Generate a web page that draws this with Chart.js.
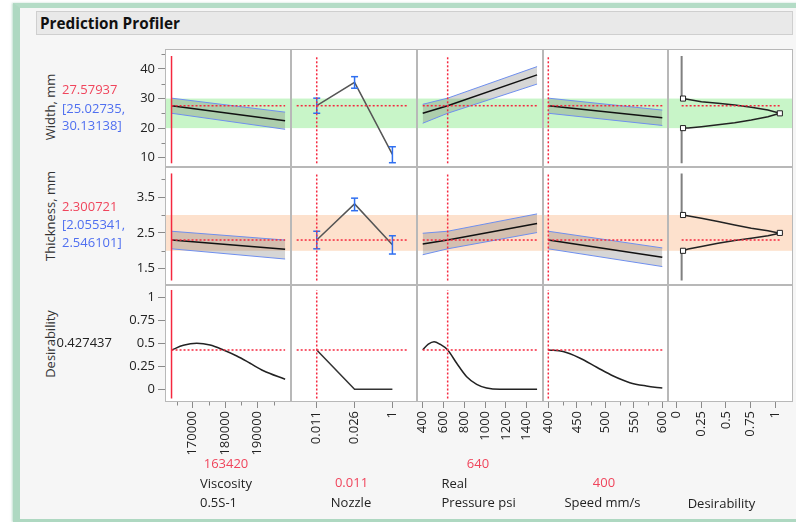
<!DOCTYPE html>
<html>
<head>
<meta charset="utf-8">
<title>Prediction Profiler</title>
<script src="https://cdn.jsdelivr.net/npm/chart.js@4.4.1/dist/chart.umd.min.js"></script>
<style>
  html, body { margin: 0; padding: 0; width: 796px; height: 522px; overflow: hidden; background: #ffffff; font-family: "Open Sans", sans-serif; }
  #frame { position: absolute; left: 13px; top: 3px; width: 800px; height: 511px;
           border-left: 7px solid #aed8c1; border-top: 5px solid #b4dcc6; border-bottom: 3px solid #aed8c1;
           background: #f6f6f6; box-shadow: -1px 0 2px rgba(150,200,175,0.6); }
  #header { position: absolute; left: 36px; top: 11px; width: 752px; height: 22px; padding-left: 3px;
            background: #e9e9e9; border: 1px solid #cfcfcf; font: bold 15.3px "Open Sans", sans-serif;
            line-height: 22px; color: #111; }
  canvas { position: absolute; }
  .lbl { position: absolute; white-space: nowrap; font: 13px "Open Sans", sans-serif; line-height: 1; }
</style>
</head>
<body>
<div id="frame"></div>
<div id="header">Prediction Profiler</div>
<script>
// ---------- current settings and predictions ----------
const currentViscosity = 163420;
const currentNozzle = 0;              // index into nozzleLevels
const currentPressure = 640;
const currentSpeed = 400;
const predWidth = 27.57937;
const ciWidth = [25.02735, 30.13138];
const predThickness = 2.300721;
const ciThickness = [2.055341, 2.546101];
const predDesirability = 0.427437;

// ---------- spec limits ----------
const widthSpec = [20, 30];
const thicknessSpec = [2, 3];

// ---------- tick labels ----------
const viscosityTicks = [170000, 180000, 190000];
const viscosityMinor = [165000, 175000, 185000, 195000];
const nozzleLevels = ['0.011', '0.026', '1'];
const nozzleTicks = [0, 1, 2];
const pressureTicks = [400, 600, 800, 1000, 1200, 1400];
const speedTicks = [400, 450, 500, 550, 600];
const speedMinor = [425, 475, 525, 575];
const desirTicks = [0, 0.25, 0.5, 0.75, 1];
const widthTicks = [10, 20, 30, 40];
const widthMinor = [15, 25, 35, 45];
const thicknessTicks = [1.5, 2.5, 3.5];
const thicknessMinor = [2, 3, 4];

// ---------- Viscosity profiles ----------
const viscosityX = [163420, 198580];
const widthByViscosity = [predWidth, 22.5];
const widthLoByViscosity = [ciWidth[0], 19.6];
const widthHiByViscosity = [ciWidth[1], 25.4];
const thickByViscosity = [predThickness, 2.045];
const thickLoByViscosity = [ciThickness[0], 1.77];
const thickHiByViscosity = [ciThickness[1], 2.30];
const desirViscosityX = [163420, 167090, 171230, 175360, 179490, 183620, 187740, 191860, 198580];
const desirByViscosity = [predDesirability, 0.478, 0.500, 0.481, 0.427, 0.362, 0.283, 0.202, 0.109];

// ---------- Nozzle profiles ----------
const widthByNozzle = [predWidth, 35.5, 11.1];
const widthLoByNozzle = [ciWidth[0], 33.5, 8.3];
const widthHiByNozzle = [ciWidth[1], 37.4, 13.7];
const thickByNozzle = [predThickness, 3.31, 2.17];
const thickLoByNozzle = [ciThickness[0], 3.12, 1.91];
const thickHiByNozzle = [ciThickness[1], 3.47, 2.42];
const desirByNozzle = [predDesirability, 0, 0];

// ---------- Pressure profiles ----------
const pressureX = [400, 640, 1500];
const widthByPressure = [25.0, predWidth, 38.0];
const widthLoByPressure = [21.65, ciWidth[0], 34.9];
const widthHiByPressure = [28.05, ciWidth[1], 40.8];
const thickByPressure = [2.19, predThickness, 2.76];
const thickLoByPressure = [1.89, ciThickness[0], 2.51];
const thickHiByPressure = [2.49, ciThickness[1], 3.03];
const desirPressureX = [400, 454, 509, 566, 640, 727, 823, 919, 1015, 1143, 1500];
const desirByPressure = [0.43, 0.49, 0.517, 0.49, predDesirability, 0.283, 0.137, 0.054, 0.014, 0, 0];

// ---------- Speed profiles ----------
const speedX = [400, 600];
const widthBySpeed = [predWidth, 23.5];
const widthLoBySpeed = [ciWidth[0], 20.9];
const widthHiBySpeed = [ciWidth[1], 26.1];
const thickBySpeed = [predThickness, 1.82];
const thickLoBySpeed = [ciThickness[0], 1.56];
const thickHiBySpeed = [ciThickness[1], 2.08];
const desirSpeedX = [400, 426, 455, 485, 514, 543, 572, 600];
const desirBySpeed = [predDesirability, 0.41, 0.34, 0.24, 0.145, 0.072, 0.036, 0.014];

// ---------- desirability functions ----------
const desirFnD = [0.067, 0.253, 0.421, 0.59, 0.758, 0.926, 1.047, 0.926, 0.758, 0.59, 0.421, 0.253, 0.12, 0.067];
const widthDesirFn = [30, 28.94, 28.40, 27.83, 27.05, 26.13, 25.0, 23.87, 22.75, 21.84, 21.16, 20.49, 20.05, 20];
const thickDesirFn = [3.0, 2.91, 2.82, 2.72, 2.63, 2.56, 2.49, 2.42, 2.35, 2.285, 2.21, 2.12, 2.05, 2.0];
const desirCtrlD = [0.067, 1.047, 0.067];
const widthDesirCtrl = [30, 25, 20];
const thickDesirCtrl = [3, 2.5, 2];
const desirFloor = 0.053;

// ---------- layout ----------
const PX = [165, 291, 417, 543, 668, 793];
const PY = [49, 167, 285, 402];
const Y_AXIS_W = 65, X_AXIS_H = 58;

const xAxes = [
  { min: 161400, max: 200400, ticks: viscosityTicks, minor: viscosityMinor },
  { min: -0.68, max: 2.65, ticks: nozzleTicks, labels: nozzleLevels },
  { min: 345, max: 1557, ticks: pressureTicks },
  { min: 390.7, max: 610, ticks: speedTicks, minor: speedMinor },
  { min: -0.085, max: 1.18, ticks: desirTicks }
];
const yAxes = [
  { min: 6.85, max: 46.76, ticks: widthTicks, minor: widthMinor },
  { min: 1.045, max: 4.34, ticks: thicknessTicks, minor: thicknessMinor },
  { min: -0.138, max: 1.134, ticks: desirTicks }
];
const hRefSpan = [[163420, 198580], [-0.53, 2.42], [400, 1500], [400, 600], [desirFloor, 1.047]];
const vRefSpan = [[8.1, 44.4], [1.17, 4.16], [-0.1, 1.08]];
const currentX = [currentViscosity, currentNozzle, currentPressure, currentSpeed];

const RED = '#f5283f';
const CI_LINE = '#6f8fee';
const CI_FILL = 'rgba(90,90,90,0.25)';
const ERR = '#2f6ff0';

Chart.defaults.font.family = '"Open Sans", sans-serif';
Chart.defaults.font.size = 13;
Chart.defaults.color = '#222';

const pts = (xs, ys) => xs.map((x, i) => ({ x: x, y: ys[i] }));

function lineDs(data, color, width, order, extra) {
  return Object.assign({ data: data, borderColor: color, borderWidth: width, pointRadius: 0,
                         fill: false, order: order, tension: 0 }, extra || {});
}

function refDatasets(col, row, value) {
  const list = [];
  const s = hRefSpan[col];
  list.push(lineDs([{ x: s[0], y: value }, { x: s[1], y: value }], RED, 1.5, 0, { borderDash: [2, 2] }));
  if (col < 4) {
    const v = vRefSpan[row];
    const solid = col === 0;
    list.push(lineDs([{ x: currentX[col], y: v[0] }, { x: currentX[col], y: v[1] }], RED,
                     1.5, 0, solid ? {} : { borderDash: [2, 2] }));
  }
  return list;
}

function bandDatasets(xs, mean, lo, hi) {
  return [
    lineDs(pts(xs, lo), CI_LINE, 1, 4, { fill: '+1', backgroundColor: CI_FILL }),
    lineDs(pts(xs, hi), CI_LINE, 1, 3),
    lineDs(pts(xs, mean), '#111', 1.5, 2)
  ];
}

function errorBarDatasets(mean, lo, hi) {
  const list = [lineDs(pts(nozzleTicks, mean), '#555', 1.5, 3)];
  nozzleTicks.forEach((x, i) => {
    list.push(lineDs([{ x: x, y: lo[i] }, { x: x, y: hi[i] }], ERR, 1.5, 2,
      { pointStyle: 'line', pointRadius: 3.5, pointBorderColor: ERR, pointBorderWidth: 1.5 }));
  });
  return list;
}

function desirFnDatasets(curve, ctrl, row) {
  const v = vRefSpan[row];
  return [
    lineDs([{ x: desirFloor, y: v[1] }, { x: desirFloor, y: curve[0] }, { x: desirFloor, y: null },
            { x: desirFloor, y: curve[curve.length - 1] }, { x: desirFloor, y: v[0] }], '#808080', 2, 4, { spanGaps: false }),
    lineDs(pts(desirFnD, curve), '#222', 1.5, 3),
    lineDs(pts(desirCtrlD, ctrl), '#222', 1, 1, { showLine: false, pointStyle: 'rect', pointRadius: 3.6,
            pointBackgroundColor: '#ffffff', pointBorderColor: '#222', pointBorderWidth: 1 })
  ];
}

function makeDecor(opts) {
  return {
    id: 'panelDecor',
    beforeDraw(chart) {
      const ctx = chart.ctx, a = chart.chartArea;
      ctx.save();
      ctx.fillStyle = '#ffffff';
      ctx.fillRect(a.left, a.top, a.right - a.left, a.bottom - a.top);
      if (opts.band) {
        const y = chart.scales.y;
        const top = y.getPixelForValue(opts.band[1]), bot = y.getPixelForValue(opts.band[0]);
        ctx.fillStyle = opts.bandColor;
        ctx.fillRect(a.left, top, a.right - a.left, bot - top);
      }
      ctx.restore();
    },
    afterDraw(chart) {
      const ctx = chart.ctx, a = chart.chartArea;
      ctx.save();
      ctx.strokeStyle = '#8a8a8a';
      ctx.lineWidth = 1;
      ctx.beginPath();
      (opts.xMinor || []).forEach(v => {
        const p = Math.round(chart.scales.x.getPixelForValue(v)) + 0.5;
        ctx.moveTo(p, a.bottom); ctx.lineTo(p, a.bottom + 3.5);
      });
      (opts.yMinor || []).forEach(v => {
        const p = Math.round(chart.scales.y.getPixelForValue(v)) + 0.5;
        ctx.moveTo(a.left - 3.5, p); ctx.lineTo(a.left, p);
      });
      ctx.stroke();
      ctx.strokeStyle = '#b8b8b8';
      ctx.strokeRect(a.left + 0.5, a.top + 0.5, a.right - a.left - 1, a.bottom - a.top - 1);
      ctx.restore();
    }
  };
}

function axisOptions(a, show, axis) {
  return {
    type: 'linear', min: a.min, max: a.max, display: show,
    position: axis === 'x' ? 'bottom' : 'left',
    afterBuildTicks: s => { s.ticks = a.ticks.map(v => ({ value: v })); },
    afterFit: s => {
      if (!show) return;
      if (axis === 'x') s.height = X_AXIS_H; else s.width = Y_AXIS_W;
      s.paddingLeft = 0; s.paddingRight = 0; s.paddingTop = 0; s.paddingBottom = 0;
    },
    ticks: {
      autoSkip: false, padding: 3,
      minRotation: axis === 'x' ? 90 : 0, maxRotation: axis === 'x' ? 90 : 0,
      color: '#222', font: { size: 13 },
      callback: v => (a.labels ? a.labels[v] : String(v))
    },
    grid: { display: true, drawOnChartArea: false, drawTicks: true,
            tickLength: axis === 'x' ? 6 : 7, color: '#8a8a8a', lineWidth: 1 },
    border: { display: false }
  };
}

function makePanel(col, row, datasets, band, bandColor) {
  const showY = col === 0, showX = row === 2;
  const left = PX[col] - (showY ? Y_AXIS_W : 0);
  const top = PY[row];
  const w = PX[col + 1] - left;
  const h = PY[row + 1] - top + (showX ? X_AXIS_H : 0);
  const cv = document.createElement('canvas');
  cv.width = w; cv.height = h;
  cv.style.left = left + 'px'; cv.style.top = top + 'px';
  cv.style.width = w + 'px'; cv.style.height = h + 'px';
  document.body.appendChild(cv);
  const xa = xAxes[col], ya = yAxes[row];
  new Chart(cv, {
    type: 'line',
    data: { datasets: datasets },
    options: {
      responsive: false, animation: false, events: [],
      layout: { padding: 0, autoPadding: false },
      plugins: { legend: { display: false }, tooltip: { enabled: false } },
      scales: { x: axisOptions(xa, showX, 'x'), y: axisOptions(ya, showY, 'y') }
    },
    plugins: [makeDecor({ band: band, bandColor: bandColor,
                          xMinor: showX ? xa.minor : null, yMinor: showY ? ya.minor : null })]
  });
}

const GREEN = '#c8f5c8', PEACH = '#fde1cd';

// Width row
makePanel(0, 0, bandDatasets(viscosityX, widthByViscosity, widthLoByViscosity, widthHiByViscosity).concat(refDatasets(0, 0, predWidth)), widthSpec, GREEN);
makePanel(1, 0, errorBarDatasets(widthByNozzle, widthLoByNozzle, widthHiByNozzle).concat(refDatasets(1, 0, predWidth)), widthSpec, GREEN);
makePanel(2, 0, bandDatasets(pressureX, widthByPressure, widthLoByPressure, widthHiByPressure).concat(refDatasets(2, 0, predWidth)), widthSpec, GREEN);
makePanel(3, 0, bandDatasets(speedX, widthBySpeed, widthLoBySpeed, widthHiBySpeed).concat(refDatasets(3, 0, predWidth)), widthSpec, GREEN);
makePanel(4, 0, desirFnDatasets(widthDesirFn, widthDesirCtrl, 0).concat(refDatasets(4, 0, predWidth)), widthSpec, GREEN);

// Thickness row
makePanel(0, 1, bandDatasets(viscosityX, thickByViscosity, thickLoByViscosity, thickHiByViscosity).concat(refDatasets(0, 1, predThickness)), thicknessSpec, PEACH);
makePanel(1, 1, errorBarDatasets(thickByNozzle, thickLoByNozzle, thickHiByNozzle).concat(refDatasets(1, 1, predThickness)), thicknessSpec, PEACH);
makePanel(2, 1, bandDatasets(pressureX, thickByPressure, thickLoByPressure, thickHiByPressure).concat(refDatasets(2, 1, predThickness)), thicknessSpec, PEACH);
makePanel(3, 1, bandDatasets(speedX, thickBySpeed, thickLoBySpeed, thickHiBySpeed).concat(refDatasets(3, 1, predThickness)), thicknessSpec, PEACH);
makePanel(4, 1, desirFnDatasets(thickDesirFn, thickDesirCtrl, 1).concat(refDatasets(4, 1, predThickness)), thicknessSpec, PEACH);

// Desirability row
const curveOpts = { cubicInterpolationMode: 'monotone' };
makePanel(0, 2, [lineDs(pts(desirViscosityX, desirByViscosity), '#222', 1.5, 2, curveOpts)].concat(refDatasets(0, 2, predDesirability)));
makePanel(1, 2, [lineDs(pts(nozzleTicks, desirByNozzle), '#333', 1.5, 2)].concat(refDatasets(1, 2, predDesirability)));
makePanel(2, 2, [lineDs(pts(desirPressureX, desirByPressure), '#222', 1.5, 2, curveOpts)].concat(refDatasets(2, 2, predDesirability)));
makePanel(3, 2, [lineDs(pts(desirSpeedX, desirBySpeed), '#222', 1.5, 2, curveOpts)].concat(refDatasets(3, 2, predDesirability)));
makePanel(4, 2, []);

// ---------- text ----------
function label(text, x, y, opts) {
  opts = opts || {};
  const d = document.createElement('div');
  d.className = 'lbl';
  d.textContent = text;
  d.style.left = x + 'px';
  d.style.top = y + 'px';
  d.style.color = opts.color || '#222';
  const tx = opts.align === 'left' ? '0' : '-50%';
  d.style.transform = 'translate(' + tx + ',-50%)' + (opts.rotate ? ' rotate(-90deg)' : '');
  document.body.appendChild(d);
}
const TXT_RED = '#f0455c', TXT_BLUE = '#4f6ff0';
const fmt = v => String(v);

label('Width, mm', 50, 107, { rotate: true, color: '#333' });
label(fmt(predWidth), 62, 89, { align: 'left', color: TXT_RED });
label('[' + fmt(ciWidth[0]) + ',', 62, 107.5, { align: 'left', color: TXT_BLUE });
label(fmt(ciWidth[1]) + ']', 62, 125, { align: 'left', color: TXT_BLUE });

label('Thickness, mm', 50, 216, { rotate: true, color: '#333' });
label(fmt(predThickness), 62, 206, { align: 'left', color: TXT_RED });
label('[' + fmt(ciThickness[0]) + ',', 62, 224, { align: 'left', color: TXT_BLUE });
label(fmt(ciThickness[1]) + ']', 62, 241.5, { align: 'left', color: TXT_BLUE });

label('Desirability', 50, 344, { rotate: true, color: '#333' });
label(fmt(predDesirability), 56.5, 341.5, { align: 'left', color: '#222' });

label(fmt(currentViscosity), 226, 463, { color: TXT_RED });
label('Viscosity', 200, 483, { align: 'left' });
label('0.5S-1', 200, 501.5, { align: 'left' });

label(nozzleLevels[currentNozzle], 351.5, 481.5, { color: TXT_RED });
label('Nozzle', 351, 501.5);

label(fmt(currentPressure), 478, 463, { color: TXT_RED });
label('Real', 441.5, 483, { align: 'left' });
label('Pressure psi', 441.5, 501.5, { align: 'left' });

label(fmt(currentSpeed), 604, 482, { color: TXT_RED });
label('Speed mm/s', 602.5, 502);

label('Desirability', 721.5, 503);
</script>
</body>
</html>
